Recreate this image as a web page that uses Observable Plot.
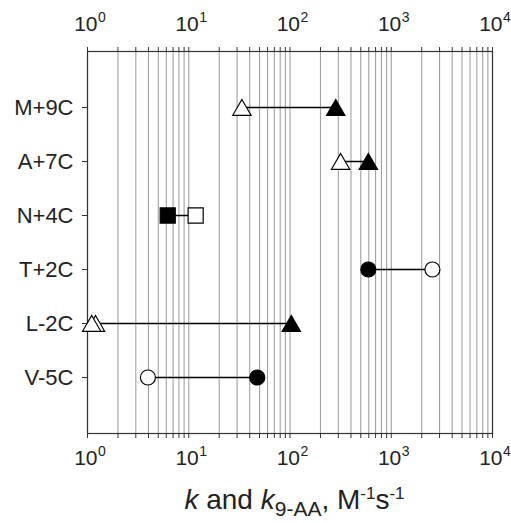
<!DOCTYPE html>
<html>
<head>
<meta charset="utf-8">
<script src="https://cdn.jsdelivr.net/npm/d3@7"></script>
<script src="https://cdn.jsdelivr.net/npm/@observablehq/plot@0.6"></script>
<style>
  body { margin: 0; background: #fff; font-family: "Liberation Sans", Arial, sans-serif; }
  #wrap { position: relative; width: 511px; height: 523px; }
  #xlabel { position: absolute; left: 0; width: 589px; top: 484px; text-align: center; font-size: 28px; color: #222; white-space: nowrap; }
  #xlabel .sub { font-size: 21px; position: relative; top: 7px; }
  #xlabel .sup { font-size: 17px; position: relative; top: -10px; }
</style>
</head>
<body>
<div id="wrap">
  <div id="chart"></div>
  <div id="xlabel"><i>k</i> and <i>k</i><span class="sub">9-AA</span>, M<span class="sup">-1</span>s<span class="sup">-1</span></div>
</div>
<script>
const categories = ["M+9C", "A+7C", "N+4C", "T+2C", "L-2C", "V-5C"];
const openK   = [33.5, 316, 11.7, 2550, 1.10, 3.95];
const filledK = [283, 594, 6.2, 594, 103, 47.5];
const shapes  = ["triangle", "triangle", "square", "circle", "triangle", "circle"];
const extraOpenCategory = ["L-2C"];
const extraOpenK = [1.2];
const decades = [1, 10, 100, 1000, 10000];
const exponents = ["0", "1", "2", "3", "4"];

const rows = categories.map((c, i) => ({cat: c, open: openK[i], filled: filledK[i], shape: shapes[i]}));
const extra = extraOpenCategory.map((c, i) => ({cat: c, open: extraOpenK[i], shape: "triangle"}));

const radius = {triangle: 6.8, square: 8.5, circle: 7.5};
const shift = {triangle: 2.5, square: 0, circle: 0};

function dots(data, key, fill) {
  return ["triangle", "square", "circle"].map(s => Plot.dot(data.filter(d => d.shape === s), {
    x: key, y: "cat", symbol: s, r: radius[s], dy: shift[s],
    fill, stroke: "black", strokeWidth: 1.2
  }));
}

const textCol = "#222";
const chart = Plot.plot({
  width: 511,
  height: 523,
  marginLeft: 87,
  marginRight: 19,
  marginTop: 51,
  marginBottom: 90,
  style: {fontFamily: "'Liberation Sans', Arial, sans-serif", fontSize: "21px", color: textCol, background: "white"},
  x: {type: "log", domain: [1, 10000], label: null},
  y: {type: "point", domain: categories, padding: 1, label: null},
  marks: [
    Plot.gridX({ticks: 10, stroke: "#a0a0a0", strokeOpacity: 1, strokeWidth: 1.1}),
    Plot.frame({stroke: "#333", strokeWidth: 1.2}),
    Plot.axisX({anchor: "top", ticks: 10, tickSize: 5, tickFormat: () => "", label: null, stroke: "#333"}),
    Plot.axisX({anchor: "bottom", ticks: 10, tickSize: 5, tickFormat: () => "", label: null, stroke: "#333"}),
    Plot.axisY({tickSize: 5, tickPadding: 9, fontSize: 22, label: null, stroke: "#333"}),
    Plot.text(decades, {x: d => d, text: () => "10", frameAnchor: "top", textAnchor: "end", lineAnchor: "middle", dx: 10, dy: -27, fontSize: 21, fill: textCol}),
    Plot.text(decades, {x: d => d, text: (d, i) => exponents[i], frameAnchor: "top", textAnchor: "start", lineAnchor: "middle", dx: 10.5, dy: -34, fontSize: 14, fill: textCol}),
    Plot.text(decades, {x: d => d, text: () => "10", frameAnchor: "bottom", textAnchor: "end", lineAnchor: "middle", dx: 10, dy: 25, fontSize: 21, fill: textCol}),
    Plot.text(decades, {x: d => d, text: (d, i) => exponents[i], frameAnchor: "bottom", textAnchor: "start", lineAnchor: "middle", dx: 10.5, dy: 18.5, fontSize: 14, fill: textCol}),
    Plot.link(rows, {x1: "open", x2: "filled", y1: "cat", y2: "cat", stroke: "black", strokeWidth: 1.5}),
    ...dots(extra, "open", "white"),
    ...dots(rows, "open", "white"),
    ...dots(rows, "filled", "black")
  ]
});
document.getElementById("chart").appendChild(chart);
</script>
</body>
</html>
